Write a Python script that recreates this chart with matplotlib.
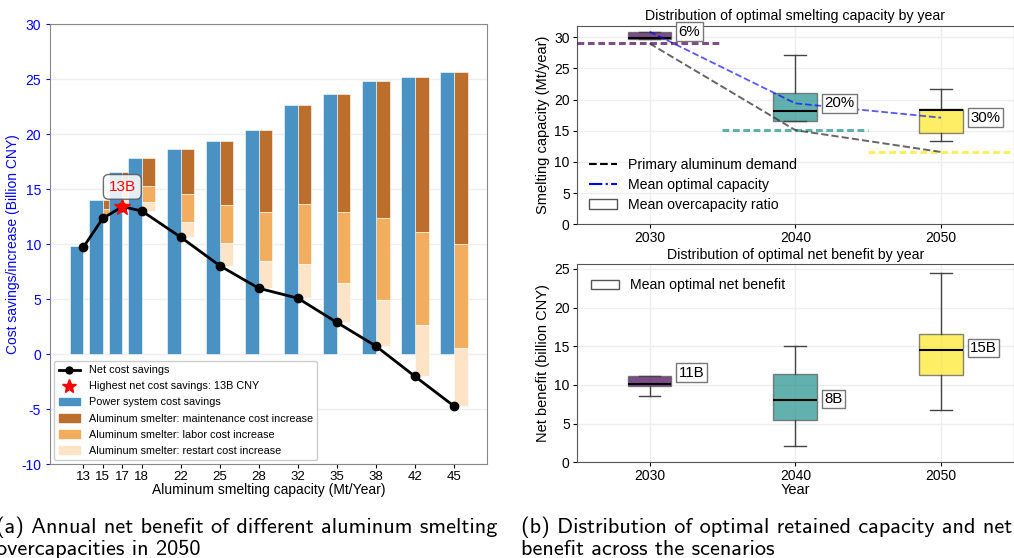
import matplotlib
matplotlib.use("Agg")
import matplotlib.pyplot as plt
import numpy as np
from matplotlib.lines import Line2D
from matplotlib.patches import Patch

plt.rcParams['font.family'] = ['Liberation Sans', 'DejaVu Sans']
plt.rcParams['axes.unicode_minus'] = False

# ---------------- data: panel (a) ----------------
capacities = [13, 15, 17, 18, 22, 25, 28, 32, 35, 38, 42, 45]
power_savings = [9.8, 14.0, 16.6, 17.8, 18.7, 19.4, 20.4, 22.7, 23.7, 24.8, 25.2, 25.7]
maintenance_cost = [0.02, 0.82, 0.96, 2.50, 4.13, 5.83, 7.46, 9.04, 10.76, 12.44, 14.11, 15.70]
labor_cost = [0.02, 0.45, 1.31, 1.43, 2.51, 3.42, 4.46, 5.48, 6.46, 7.42, 8.43, 9.40]
restart_cost = [0.03, 0.37, 0.91, 0.84, 1.42, 2.10, 2.48, 3.08, 3.58, 4.19, 4.66, 5.30]
best_label = "13B"

# ---------------- data: panel (b) ----------------
years = [2030, 2040, 2050]
cap_whislo = [29.75, 16.55, 13.3]
cap_q1 = [29.75, 16.55, 14.6]
cap_med = [29.9, 18.1, 18.4]
cap_q3 = [30.9, 21.0, 18.45]
cap_whishi = [30.9, 27.1, 21.7]
demand = [29.0, 15.1, 11.6]
mean_capacity = [30.9, 19.4, 17.1]
overcap_labels = ["6%", "20%", "30%"]

ben_whislo = [8.55, 2.05, 6.7]
ben_q1 = [9.85, 5.5, 11.25]
ben_med = [10.1, 8.0, 14.55]
ben_q3 = [11.2, 11.45, 16.65]
ben_whishi = [11.2, 15.0, 24.5]
ben_label_y = [11.6, 8.2, 14.8]
ben_labels = ["11B", "8B", "15B"]

# ---------------- figure ----------------
fig = plt.figure(figsize=(10.14, 5.58), dpi=100)

# ---- panel (a)
axa = fig.add_axes([0.0493, 0.1679, 0.4310, 0.7886])
pos = np.array([0, 0.5, 1.0, 1.5, 2.5, 3.5, 4.5, 5.5, 6.5, 7.5, 8.5, 9.5])
w = 0.35
ps = np.array(power_savings)
mc = np.array(maintenance_cost)
lc = np.array(labor_cost)
rc = np.array(restart_cost)
net = ps - mc - lc - rc

c_blue = '#4A91C4'
c_brown = '#BC6F2C'
c_orange = '#F2AE5E'
c_peach = '#FDE4C6'

axa.bar(pos + w / 2, mc, width=w, bottom=ps - mc, color=c_brown, edgecolor='white', linewidth=0.4, zorder=2)
axa.bar(pos + w / 2, lc, width=w, bottom=ps - mc - lc, color=c_orange, edgecolor='white', linewidth=0.4, zorder=2)
axa.bar(pos + w / 2, rc, width=w, bottom=net, color=c_peach, edgecolor='white', linewidth=0.4, zorder=2)
axa.bar(pos - w / 2, ps, width=w, color=c_blue, edgecolor='white', linewidth=0.4, zorder=2)

axa.plot(pos, net, color='black', lw=2, marker='o', ms=6, zorder=4)
ib = int(np.argmax(net))
axa.plot(pos[ib], net[ib], marker='*', color='red', ms=12, ls='none', zorder=5)
axa.text(pos[ib], net[ib] + 1.8, best_label, color='red', ha='center', va='center', fontsize=11,
         bbox=dict(boxstyle='round,pad=0.35', fc='white', ec='#555555', alpha=0.85), zorder=6)

axa.set_xlim(-0.854, 10.35)
axa.set_ylim(-10, 30)
axa.set_yticks(np.arange(-10, 31, 5))
axa.tick_params(axis='y', colors='blue', labelsize=10, length=3)
axa.tick_params(axis='x', labelsize=9.5, length=3, pad=2)
axa.set_xticks(pos)
axa.set_xticklabels([str(c) for c in capacities])
axa.set_ylabel('Cost savings/increase (Billion CNY)', color='blue', fontsize=10, labelpad=1)
axa.set_xlabel('Aluminum smelting capacity (Mt/Year)', fontsize=10, labelpad=0)
axa.yaxis.grid(True, color='#eeeeee', lw=1, zorder=0)
axa.set_axisbelow(True)
for s in axa.spines.values():
    s.set_color('#888888')

handles_a = [
    Line2D([0], [0], color='black', lw=2, marker='o', ms=5),
    Line2D([0], [0], color='red', marker='*', ls='none', ms=10),
    Patch(color=c_blue), Patch(color=c_brown), Patch(color=c_orange), Patch(color=c_peach)]
labels_a = ['Net cost savings', 'Highest net cost savings: 13B CNY', 'Power system cost savings',
            'Aluminum smelter: maintenance cost increase', 'Aluminum smelter: labor cost increase',
            'Aluminum smelter: restart cost increase']
axa.legend(handles_a, labels_a, loc='lower left', fontsize=7.8, frameon=True, framealpha=1,
           edgecolor='#cccccc', handlelength=2.0, labelspacing=0.56, borderaxespad=0.4)

# ---- panel (b) top
cols = [plt.cm.viridis(0.0), plt.cm.viridis(0.5), plt.cm.viridis(1.0)]
axt = fig.add_axes([0.5687, 0.598, 0.4313, 0.3554])
stats_c = [dict(whislo=a, q1=b, med=c, q3=d, whishi=e, fliers=[])
           for a, b, c, d, e in zip(cap_whislo, cap_q1, cap_med, cap_q3, cap_whishi)]
bp = axt.bxp(stats_c, positions=years, widths=3, patch_artist=True, showfliers=False,
             medianprops=dict(color='black', lw=1.5),
             whiskerprops=dict(color='#444444', lw=1), capprops=dict(color='#444444', lw=1),
             boxprops=dict(edgecolor='#555555', lw=1), manage_ticks=False)
for patch, c in zip(bp['boxes'], cols):
    patch.set_facecolor(c)
    patch.set_alpha(0.7)
for y, d, c in zip(years, demand, cols):
    axt.hlines(d, y - 5, y + 5, colors=[c], lw=2.2, linestyles=[(0, (2.2, 1.2))], alpha=0.7, zorder=3)
axt.plot(years, demand, color='#333333', ls='--', lw=1.4, alpha=0.75, zorder=4)
axt.plot(years, mean_capacity, color='blue', ls='--', lw=1.3, alpha=0.65, zorder=4)
for y, m, t in zip(years, mean_capacity, overcap_labels):
    axt.text(y + 2.0, m, t, ha='left', va='center', fontsize=10.8,
             bbox=dict(boxstyle='square,pad=0.15', fc='white', ec='#777777'), zorder=6)
axt.set_xlim(2025, 2055)
axt.set_ylim(0, 31.8)
axt.set_xticks(years)
axt.set_yticks(np.arange(0, 31, 5))
axt.tick_params(labelsize=10, length=3, pad=2)
axt.grid(True, color='#eeeeee', lw=1)
axt.set_axisbelow(True)
axt.set_ylabel('Smelting capacity (Mt/year)', fontsize=10.5, labelpad=3)
axt.set_title('Distribution of optimal smelting capacity by year', fontsize=10.2, pad=4)
for s in axt.spines.values():
    s.set_color('#555555')
handles_t = [Line2D([0], [0], color='black', ls='--', lw=1.5),
             Line2D([0], [0], color='blue', ls='-.', lw=1.5),
             Patch(fc='white', ec='#555555')]
axt.legend(handles_t, ['Primary aluminum demand', 'Mean optimal capacity', 'Mean overcapacity ratio'],
           loc='lower left', fontsize=10.2, frameon=False, labelspacing=0.42, handlelength=2.0,
           borderaxespad=0.45)

# ---- panel (b) bottom
axb = fig.add_axes([0.5687, 0.1715, 0.4313, 0.3548])
stats_b = [dict(whislo=a, q1=b, med=c, q3=d, whishi=e, fliers=[])
           for a, b, c, d, e in zip(ben_whislo, ben_q1, ben_med, ben_q3, ben_whishi)]
bp2 = axb.bxp(stats_b, positions=years, widths=3, patch_artist=True, showfliers=False,
              medianprops=dict(color='black', lw=1.5),
              whiskerprops=dict(color='#444444', lw=1), capprops=dict(color='#444444', lw=1),
              boxprops=dict(edgecolor='#555555', lw=1), manage_ticks=False)
for patch, c in zip(bp2['boxes'], cols):
    patch.set_facecolor(c)
    patch.set_alpha(0.7)
for y, m, t in zip(years, ben_label_y, ben_labels):
    axb.text(y + 2.0, m, t, ha='left', va='center', fontsize=10.8,
             bbox=dict(boxstyle='square,pad=0.15', fc='white', ec='#777777'), zorder=6)
axb.set_xlim(2025, 2055)
axb.set_ylim(0, 25.6)
axb.set_xticks(years)
axb.set_yticks(np.arange(0, 26, 5))
axb.tick_params(labelsize=10, length=3, pad=2)
axb.grid(True, color='#eeeeee', lw=1)
axb.set_axisbelow(True)
axb.set_ylabel('Net benefit (billion CNY)', fontsize=10.5, labelpad=3)
axb.set_xlabel('Year', fontsize=10.5, labelpad=0)
axb.set_title('Distribution of optimal net benefit by year', fontsize=10.2, pad=4)
for s in axb.spines.values():
    s.set_color('#555555')
axb.legend([Patch(fc='white', ec='#555555')], ['Mean optimal net benefit'],
           loc='upper left', fontsize=10.2, frameon=False, handlelength=2.0, borderaxespad=0.6)

# ---- captions
cap_kw = dict(family='cmss10', fontsize=16, ha='left', va='baseline')
fig.text(-0.004, 0.0453, '(a) Annual net benefit of different aluminum smelting', **cap_kw)
fig.text(-0.004, 0.0054, 'overcapacities in 2050', **cap_kw)
fig.text(0.514, 0.0453, '(b) Distribution of optimal retained capacity and net', **cap_kw)
fig.text(0.514, 0.0054, 'benefit across the scenarios', **cap_kw)

fig.savefig('out.png', dpi=100)
